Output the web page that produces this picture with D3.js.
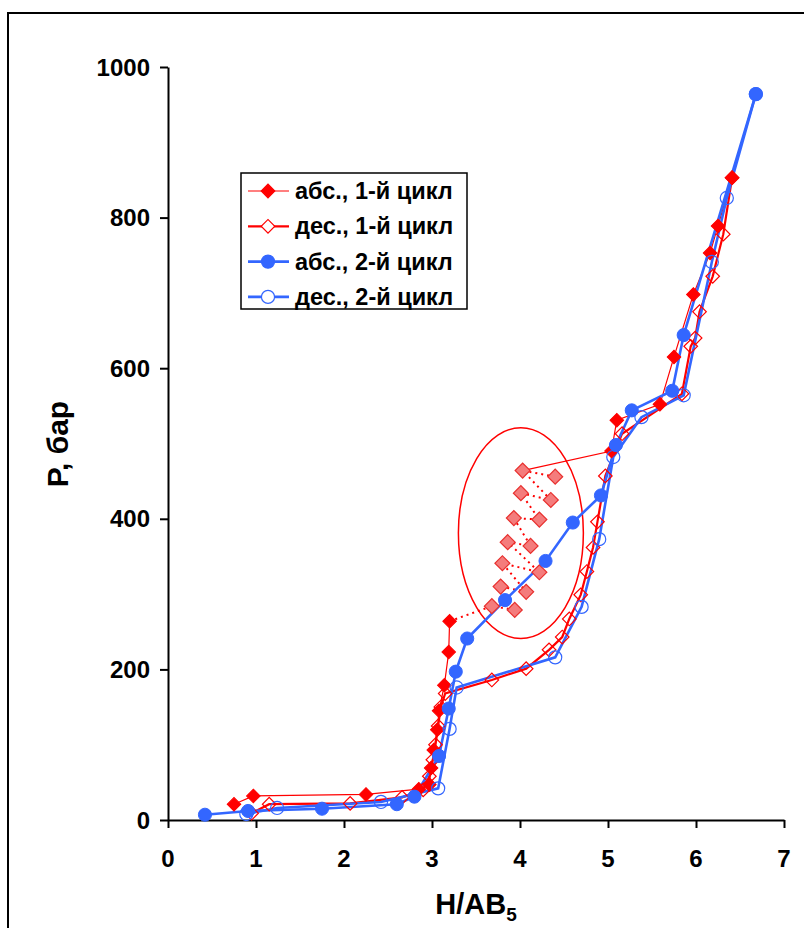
<!DOCTYPE html>
<html><head><meta charset="utf-8">
<script src="https://cdn.jsdelivr.net/npm/d3@7"></script>
<style>body{margin:0;background:#fff}svg{display:block}</style>
</head><body>
<svg id="c" width="804" height="928"></svg>
<script>
// ---- data ----
const xTicks = [0,1,2,3,4,5,6,7];
const yTicks = [0,200,400,600,800,1000];
const seriesNames = ["абс., 1-й цикл","дес., 1-й цикл","абс., 2-й цикл","дес., 2-й цикл"];
// абс., 1-й цикл (lower part up to the jump)
const abs1Low = [[0.75,21],[0.97,32],[2.25,34],[2.85,41],[2.97,47],[2.99,69],[3.02,93],[3.06,120],[3.08,145],[3.14,179],[3.19,223],[3.20,264]];
// абс., 1-й цикл (upper part)
const abs1High = [[5.04,490],[5.10,531],[5.59,552],[5.75,615],[5.97,698],[6.16,753],[6.25,789],[6.41,853]];
// relaxation points inside the ellipse
const relax = [[3.68,284],[3.94,279],[3.78,310],[4.07,303],[3.80,341],[4.22,329],[3.86,369],[4.12,364],[3.93,401],[4.22,399],[4.01,434],[4.35,425],[4.03,464],[4.40,456]];
const relaxLinkIndex = 12;
// дес., 1-й цикл
const des1 = [[6.41,853],[6.31,778],[6.19,722],[6.04,675],[5.99,640],[5.94,629],[5.84,566],[5.16,513],[4.97,457],[4.88,396],[4.83,362],[4.76,330],[4.69,299],[4.56,267],[4.48,243],[4.33,226],[4.07,201],[3.68,186],[3.15,168],[3.10,150],[3.07,125],[3.04,100],[3.01,80],[2.97,58],[2.90,40],[2.66,30],[2.07,22],[1.15,21],[0.95,9]];
// абс., 2-й цикл
const abs2 = [[0.42,7],[0.91,12],[1.75,15],[2.60,21],[2.80,31],[3.08,85],[3.19,148],[3.27,197],[3.40,241],[3.83,292],[4.29,344],[4.60,395],[4.92,431],[5.09,498],[5.27,544],[5.73,570],[5.86,644],[6.68,964]];
// дес., 2-й цикл
const des2 = [[6.68,964],[6.35,826],[6.18,741],[5.86,564],[5.38,535],[5.06,482],[4.90,373],[4.70,283],[4.40,216],[3.28,176],[3.20,121],[3.07,42],[2.42,24],[1.24,16],[0.89,8]];
// ellipse (data units): centre x, centre y, radius x, radius y
const ellipse = [4.01, 381, 0.71, 140];

// ---- drawing ----
const svg = d3.select("#c");
const FONT = "'Liberation Sans', Arial, sans-serif";
const RED = "#ff0000", BLUE = "#3366ff", PINK = "#f47c7c";

svg.append("rect").attr("x",8).attr("y",13).attr("width",820).attr("height",940)
  .attr("fill","none").attr("stroke","#000").attr("stroke-width",2);

const x = d3.scaleLinear().domain([0,7]).range([168,784]);
const y = d3.scaleLinear().domain([0,1000]).range([820,67]);

// minor + major ticks
const gx = svg.append("g").attr("transform","translate(0,820)");
gx.call(d3.axisBottom(x).tickValues(d3.range(0,7.0001,0.2)).tickSize(6).tickFormat(""));
gx.call(d3.axisBottom(x).tickValues(xTicks).tickSize(8).tickSizeOuter(0).tickFormat(""));
gx.selectAll("path,line").attr("stroke","#000").attr("stroke-width",2);
const gy = svg.append("g").attr("transform","translate(168,0)");
gy.call(d3.axisLeft(y).tickValues(d3.range(0,1000.1,50)).tickSize(6).tickFormat(""));
gy.call(d3.axisLeft(y).tickValues(yTicks).tickSize(8).tickSizeOuter(0).tickFormat(""));
gy.selectAll("path,line").attr("stroke","#000").attr("stroke-width",2);

svg.append("g").selectAll("text").data(xTicks).join("text")
  .attr("x",d=>x(d)).attr("y",867).attr("text-anchor","middle")
  .attr("font-family",FONT).attr("font-weight","bold").attr("font-size",24).text(d=>d);
svg.append("g").selectAll("text").data(yTicks).join("text")
  .attr("x",150).attr("y",d=>y(d)+8.5).attr("text-anchor","end")
  .attr("font-family",FONT).attr("font-weight","bold").attr("font-size",24).text(d=>d);

const xt = svg.append("text").attr("x",476).attr("y",914).attr("text-anchor","middle")
  .attr("font-family",FONT).attr("font-weight","bold").attr("font-size",29);
xt.append("tspan").text("H/AB");
xt.append("tspan").attr("font-size",19).attr("dy",7).text("5");
svg.append("text").attr("transform","translate(68,444) rotate(-90)").attr("text-anchor","middle")
  .attr("font-family",FONT).attr("font-weight","bold").attr("font-size",30).text("P, бар");

const line = d3.line().x(d=>x(d[0])).y(d=>y(d[1]));

// ellipse
svg.append("ellipse").attr("cx",x(ellipse[0])).attr("cy",y(ellipse[1]))
  .attr("rx",x(ellipse[0]+ellipse[2])-x(ellipse[0])).attr("ry",y(ellipse[1])-y(ellipse[1]+ellipse[3]))
  .attr("fill","none").attr("stroke",RED).attr("stroke-width",1.5);

// lines
svg.append("path").attr("d",line(abs1Low)).attr("fill","none").attr("stroke",RED).attr("stroke-width",1.2);
svg.append("path").attr("d",line([abs1Low[abs1Low.length-1]].concat(relax))).attr("fill","none")
  .attr("stroke",RED).attr("stroke-width",2).attr("stroke-dasharray","2,4");
svg.append("path").attr("d",line([relax[relaxLinkIndex]].concat(abs1High))).attr("fill","none").attr("stroke",RED).attr("stroke-width",1.2);
svg.append("path").attr("d",line(des1)).attr("fill","none").attr("stroke",RED).attr("stroke-width",2.2);
svg.append("path").attr("d",line(abs2)).attr("fill","none").attr("stroke",BLUE).attr("stroke-width",2.6);
svg.append("path").attr("d",line(des2)).attr("fill","none").attr("stroke",BLUE).attr("stroke-width",2.6);

const diamond = d3.symbol(d3.symbolSquare, 92)();
const bigDiamond = d3.symbol(d3.symbolSquare, 112)();
const circle = d3.symbol(d3.symbolCircle, 135)();

function markers(data, path, fill, stroke, sw){
  svg.append("g").selectAll("path").data(data).join("path")
    .attr("d",path)
    .attr("transform",d=>`translate(${x(d[0])},${y(d[1])})` + (path===circle?"":" rotate(45)"))
    .attr("fill",fill).attr("stroke",stroke).attr("stroke-width",sw);
}
markers(relax, bigDiamond, PINK, "#e8302e", 1.2);
markers(abs1Low.concat(abs1High), diamond, RED, RED, 1);
markers(des1, diamond, "none", RED, 1.2);
markers(abs2, circle, BLUE, BLUE, 1);
markers(des2, circle, "none", BLUE, 1.2);

// legend
const lg = svg.append("g");
lg.append("rect").attr("x",241).attr("y",173).attr("width",226).attr("height",136)
  .attr("fill","#fff").attr("stroke","#000").attr("stroke-width",1.5);
const legendStyle = [
  {c:RED,w:1.2,m:diamond,f:RED,rot:true},
  {c:RED,w:2.2,m:diamond,f:"#fff",rot:true},
  {c:BLUE,w:2.6,m:circle,f:BLUE,rot:false},
  {c:BLUE,w:2.6,m:circle,f:"#fff",rot:false}];
seriesNames.forEach((n,i)=>{
  const cy = 191 + i*35.3, s = legendStyle[i];
  lg.append("line").attr("x1",248).attr("x2",289).attr("y1",cy).attr("y2",cy).attr("stroke",s.c).attr("stroke-width",s.w);
  lg.append("path").attr("d",s.m).attr("transform",`translate(268,${cy})`+(s.rot?" rotate(45)":""))
    .attr("fill",s.f).attr("stroke",s.c).attr("stroke-width",1.2);
  lg.append("text").attr("x",295).attr("y",cy+8).attr("font-family",FONT).attr("font-weight","bold")
    .attr("font-size",23.5).text(n);
});
</script>
</body></html>
